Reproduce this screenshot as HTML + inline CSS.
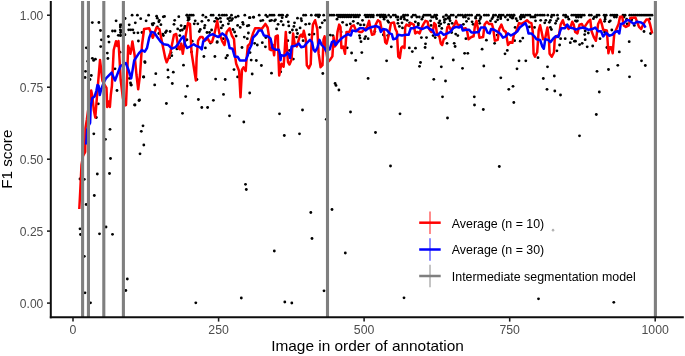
<!DOCTYPE html>
<html lang="en"><head><meta charset="utf-8"><title>F1 score by image in order of annotation</title>
<style>html,body{margin:0;padding:0;background:#fff}body{width:685px;height:356px;overflow:hidden}svg{display:block}text{font-family:"Liberation Sans",Arial,sans-serif}</style></head><body>
<svg width="685" height="356" viewBox="0 0 685 356">
<rect width="685" height="356" fill="#fff"/>
<g fill="#000">
<circle cx="92.3" cy="22.6" r="1.42"/>
<circle cx="98.9" cy="22.5" r="1.42"/>
<circle cx="100.5" cy="30.5" r="1.42"/>
<circle cx="101.4" cy="39.8" r="1.42"/>
<circle cx="100.7" cy="46.6" r="1.42"/>
<circle cx="86.3" cy="47.8" r="1.42"/>
<circle cx="92.4" cy="58.3" r="1.42"/>
<circle cx="95.4" cy="59.2" r="1.42"/>
<circle cx="93.6" cy="60.4" r="1.42"/>
<circle cx="108.4" cy="36.5" r="1.42"/>
<circle cx="109" cy="42.1" r="1.42"/>
<circle cx="107.3" cy="53.1" r="1.42"/>
<circle cx="107.9" cy="58.5" r="1.42"/>
<circle cx="112.5" cy="31" r="1.42"/>
<circle cx="115" cy="31" r="1.42"/>
<circle cx="118.3" cy="35.3" r="1.42"/>
<circle cx="120.7" cy="35.3" r="1.42"/>
<circle cx="121" cy="30.7" r="1.42"/>
<circle cx="121.6" cy="24.9" r="1.42"/>
<circle cx="116.1" cy="20.8" r="1.42"/>
<circle cx="124.9" cy="34.7" r="1.42"/>
<circle cx="87.7" cy="61.2" r="1.42"/>
<circle cx="120" cy="52.2" r="1.42"/>
<circle cx="125.1" cy="18.5" r="1.42"/>
<circle cx="132.1" cy="15.2" r="1.42"/>
<circle cx="137.4" cy="15.2" r="1.42"/>
<circle cx="148.6" cy="15.2" r="1.42"/>
<circle cx="140.7" cy="18.7" r="1.42"/>
<circle cx="135.3" cy="22.8" r="1.42"/>
<circle cx="129.2" cy="24.8" r="1.42"/>
<circle cx="146.1" cy="20.8" r="1.42"/>
<circle cx="128.7" cy="29.8" r="1.42"/>
<circle cx="130.7" cy="29.8" r="1.42"/>
<circle cx="132.8" cy="29.8" r="1.42"/>
<circle cx="134" cy="32.8" r="1.42"/>
<circle cx="137.9" cy="32.8" r="1.42"/>
<circle cx="142" cy="32.5" r="1.42"/>
<circle cx="138.4" cy="41" r="1.42"/>
<circle cx="156.6" cy="16.2" r="1.42"/>
<circle cx="157.3" cy="18.2" r="1.42"/>
<circle cx="164.5" cy="16.4" r="1.42"/>
<circle cx="163.3" cy="16.8" r="1.42"/>
<circle cx="159.3" cy="20.3" r="1.42"/>
<circle cx="158.8" cy="21.8" r="1.42"/>
<circle cx="152.2" cy="23.8" r="1.42"/>
<circle cx="153.7" cy="23.3" r="1.42"/>
<circle cx="152.7" cy="24.9" r="1.42"/>
<circle cx="160.9" cy="24.7" r="1.42"/>
<circle cx="157.3" cy="26.9" r="1.42"/>
<circle cx="166.5" cy="31" r="1.42"/>
<circle cx="170.1" cy="31.5" r="1.42"/>
<circle cx="165.5" cy="32.5" r="1.42"/>
<circle cx="162.9" cy="34.1" r="1.42"/>
<circle cx="163.4" cy="35.6" r="1.42"/>
<circle cx="158.8" cy="33.5" r="1.42"/>
<circle cx="174.7" cy="20.3" r="1.42"/>
<circle cx="174" cy="24.3" r="1.42"/>
<circle cx="178.8" cy="16.7" r="1.42"/>
<circle cx="181.1" cy="25.6" r="1.42"/>
<circle cx="184.9" cy="26.4" r="1.42"/>
<circle cx="177.7" cy="28.9" r="1.42"/>
<circle cx="180.3" cy="30.5" r="1.42"/>
<circle cx="182.3" cy="30" r="1.42"/>
<circle cx="184.4" cy="28.4" r="1.42"/>
<circle cx="186.9" cy="15.2" r="1.42"/>
<circle cx="188" cy="17.7" r="1.42"/>
<circle cx="189" cy="19.2" r="1.42"/>
<circle cx="179.8" cy="35.6" r="1.42"/>
<circle cx="186.9" cy="39.7" r="1.42"/>
<circle cx="120.3" cy="24.9" r="1.42"/>
<circle cx="120.3" cy="26.9" r="1.42"/>
<circle cx="120.3" cy="29.8" r="1.42"/>
<circle cx="120.6" cy="32.5" r="1.42"/>
<circle cx="120.3" cy="35.6" r="1.42"/>
<circle cx="124.6" cy="34.8" r="1.42"/>
<circle cx="187" cy="15.2" r="1.42"/>
<circle cx="189.6" cy="15.2" r="1.42"/>
<circle cx="191.3" cy="15.2" r="1.42"/>
<circle cx="193.2" cy="15.2" r="1.42"/>
<circle cx="202.9" cy="15.2" r="1.42"/>
<circle cx="211.1" cy="15.2" r="1.42"/>
<circle cx="213.1" cy="15.2" r="1.42"/>
<circle cx="219.2" cy="15.2" r="1.42"/>
<circle cx="222.3" cy="15.2" r="1.42"/>
<circle cx="224.3" cy="15.2" r="1.42"/>
<circle cx="226.4" cy="15.2" r="1.42"/>
<circle cx="231.5" cy="15.2" r="1.42"/>
<circle cx="244.8" cy="15.2" r="1.42"/>
<circle cx="189.1" cy="17.7" r="1.42"/>
<circle cx="188.1" cy="20.3" r="1.42"/>
<circle cx="195.2" cy="20.8" r="1.42"/>
<circle cx="194.2" cy="23.8" r="1.42"/>
<circle cx="197.8" cy="23.8" r="1.42"/>
<circle cx="201.9" cy="21.3" r="1.42"/>
<circle cx="205.9" cy="17.2" r="1.42"/>
<circle cx="208.5" cy="20.3" r="1.42"/>
<circle cx="204.9" cy="25.4" r="1.42"/>
<circle cx="204.4" cy="27.9" r="1.42"/>
<circle cx="200.3" cy="29.5" r="1.42"/>
<circle cx="199.3" cy="31.5" r="1.42"/>
<circle cx="207" cy="32.5" r="1.42"/>
<circle cx="209.5" cy="32.5" r="1.42"/>
<circle cx="211.6" cy="30" r="1.42"/>
<circle cx="214.6" cy="21.3" r="1.42"/>
<circle cx="216.2" cy="18.2" r="1.42"/>
<circle cx="217.7" cy="19.2" r="1.42"/>
<circle cx="220.3" cy="18.2" r="1.42"/>
<circle cx="220.8" cy="21.8" r="1.42"/>
<circle cx="222.8" cy="25.4" r="1.42"/>
<circle cx="221.3" cy="27.9" r="1.42"/>
<circle cx="227.9" cy="18.7" r="1.42"/>
<circle cx="230" cy="17.7" r="1.42"/>
<circle cx="232.5" cy="18.7" r="1.42"/>
<circle cx="229.5" cy="20.8" r="1.42"/>
<circle cx="231.5" cy="20.3" r="1.42"/>
<circle cx="228.4" cy="23.8" r="1.42"/>
<circle cx="235.6" cy="17.2" r="1.42"/>
<circle cx="238.1" cy="16.2" r="1.42"/>
<circle cx="233" cy="29.5" r="1.42"/>
<circle cx="234.6" cy="32" r="1.42"/>
<circle cx="236.1" cy="36.1" r="1.42"/>
<circle cx="237.6" cy="25.4" r="1.42"/>
<circle cx="240.2" cy="27.4" r="1.42"/>
<circle cx="242.7" cy="22.3" r="1.42"/>
<circle cx="243.2" cy="24.3" r="1.42"/>
<circle cx="247.3" cy="25.9" r="1.42"/>
<circle cx="248.8" cy="25.4" r="1.42"/>
<circle cx="249.4" cy="17.7" r="1.42"/>
<circle cx="253.5" cy="17.2" r="1.42"/>
<circle cx="248.4" cy="33" r="1.42"/>
<circle cx="244.3" cy="37.1" r="1.42"/>
<circle cx="247.3" cy="38.7" r="1.42"/>
<circle cx="217.2" cy="41.7" r="1.42"/>
<circle cx="223.3" cy="38.7" r="1.42"/>
<circle cx="192.2" cy="41.2" r="1.42"/>
<circle cx="186" cy="40.2" r="1.42"/>
<circle cx="185.5" cy="26.4" r="1.42"/>
<circle cx="259.2" cy="15.2" r="1.42"/>
<circle cx="265.8" cy="15.2" r="1.42"/>
<circle cx="269.9" cy="15.2" r="1.42"/>
<circle cx="272" cy="15.2" r="1.42"/>
<circle cx="274" cy="15.2" r="1.42"/>
<circle cx="279.1" cy="15.2" r="1.42"/>
<circle cx="281.2" cy="15.2" r="1.42"/>
<circle cx="282.7" cy="15.2" r="1.42"/>
<circle cx="287.3" cy="15.2" r="1.42"/>
<circle cx="303.6" cy="15.2" r="1.42"/>
<circle cx="305.7" cy="15.2" r="1.42"/>
<circle cx="311.3" cy="15.2" r="1.42"/>
<circle cx="315.9" cy="15.2" r="1.42"/>
<circle cx="318" cy="15.2" r="1.42"/>
<circle cx="319.5" cy="15.2" r="1.42"/>
<circle cx="253.6" cy="17.2" r="1.42"/>
<circle cx="250" cy="17.7" r="1.42"/>
<circle cx="267.4" cy="16.7" r="1.42"/>
<circle cx="286.3" cy="16.7" r="1.42"/>
<circle cx="282.2" cy="17.7" r="1.42"/>
<circle cx="260.7" cy="20.8" r="1.42"/>
<circle cx="262.8" cy="20.3" r="1.42"/>
<circle cx="269.9" cy="20.8" r="1.42"/>
<circle cx="271.5" cy="20.3" r="1.42"/>
<circle cx="274.5" cy="20.8" r="1.42"/>
<circle cx="275.5" cy="19.8" r="1.42"/>
<circle cx="281.2" cy="21.3" r="1.42"/>
<circle cx="288.3" cy="21.8" r="1.42"/>
<circle cx="278.1" cy="24.3" r="1.42"/>
<circle cx="283.2" cy="24.9" r="1.42"/>
<circle cx="288.8" cy="25.9" r="1.42"/>
<circle cx="276.6" cy="28.9" r="1.42"/>
<circle cx="294.5" cy="22.8" r="1.42"/>
<circle cx="293.9" cy="26.4" r="1.42"/>
<circle cx="297.5" cy="18.2" r="1.42"/>
<circle cx="301.1" cy="18.7" r="1.42"/>
<circle cx="301.6" cy="20.8" r="1.42"/>
<circle cx="305.7" cy="24.3" r="1.42"/>
<circle cx="309.3" cy="23.8" r="1.42"/>
<circle cx="300.1" cy="27.9" r="1.42"/>
<circle cx="296.5" cy="30" r="1.42"/>
<circle cx="292.4" cy="30" r="1.42"/>
<circle cx="289.9" cy="32.5" r="1.42"/>
<circle cx="297.5" cy="33.5" r="1.42"/>
<circle cx="296.5" cy="37.1" r="1.42"/>
<circle cx="287.8" cy="40.7" r="1.42"/>
<circle cx="303.1" cy="40.7" r="1.42"/>
<circle cx="309.3" cy="34.6" r="1.42"/>
<circle cx="313.9" cy="34.1" r="1.42"/>
<circle cx="265.8" cy="37.6" r="1.42"/>
<circle cx="262.3" cy="42.7" r="1.42"/>
<circle cx="254.6" cy="43.3" r="1.42"/>
<circle cx="316" cy="15.2" r="1.42"/>
<circle cx="317.6" cy="15.2" r="1.42"/>
<circle cx="319.1" cy="15.2" r="1.42"/>
<circle cx="323.7" cy="15.2" r="1.42"/>
<circle cx="329.8" cy="15.2" r="1.42"/>
<circle cx="331.9" cy="15.2" r="1.42"/>
<circle cx="333.9" cy="15.2" r="1.42"/>
<circle cx="337" cy="15.2" r="1.42"/>
<circle cx="339" cy="15.2" r="1.42"/>
<circle cx="341" cy="15.2" r="1.42"/>
<circle cx="343.1" cy="15.2" r="1.42"/>
<circle cx="345.1" cy="15.2" r="1.42"/>
<circle cx="347.2" cy="15.2" r="1.42"/>
<circle cx="349.2" cy="15.2" r="1.42"/>
<circle cx="351.3" cy="15.2" r="1.42"/>
<circle cx="353.3" cy="15.2" r="1.42"/>
<circle cx="355.4" cy="15.2" r="1.42"/>
<circle cx="357.4" cy="15.2" r="1.42"/>
<circle cx="359.5" cy="15.2" r="1.42"/>
<circle cx="365.1" cy="15.2" r="1.42"/>
<circle cx="367.1" cy="15.2" r="1.42"/>
<circle cx="369.2" cy="15.2" r="1.42"/>
<circle cx="371.2" cy="15.2" r="1.42"/>
<circle cx="373.2" cy="15.2" r="1.42"/>
<circle cx="377.3" cy="15.2" r="1.42"/>
<circle cx="379.4" cy="15.2" r="1.42"/>
<circle cx="381.4" cy="15.2" r="1.42"/>
<circle cx="383.5" cy="15.2" r="1.42"/>
<circle cx="318.6" cy="16.9" r="1.42"/>
<circle cx="338.5" cy="16.9" r="1.42"/>
<circle cx="340.5" cy="16.9" r="1.42"/>
<circle cx="342.6" cy="16.9" r="1.42"/>
<circle cx="344.6" cy="16.9" r="1.42"/>
<circle cx="346.7" cy="16.9" r="1.42"/>
<circle cx="348.7" cy="16.9" r="1.42"/>
<circle cx="350.8" cy="16.9" r="1.42"/>
<circle cx="353.8" cy="16.9" r="1.42"/>
<circle cx="355.9" cy="16.9" r="1.42"/>
<circle cx="358.4" cy="16.9" r="1.42"/>
<circle cx="366.1" cy="16.9" r="1.42"/>
<circle cx="368.1" cy="16.9" r="1.42"/>
<circle cx="370.7" cy="16.9" r="1.42"/>
<circle cx="373.2" cy="16.9" r="1.42"/>
<circle cx="380.4" cy="16.9" r="1.42"/>
<circle cx="383" cy="16.9" r="1.42"/>
<circle cx="324.7" cy="20.3" r="1.42"/>
<circle cx="322.2" cy="22.8" r="1.42"/>
<circle cx="320.1" cy="27.4" r="1.42"/>
<circle cx="337" cy="19.2" r="1.42"/>
<circle cx="342.6" cy="22.3" r="1.42"/>
<circle cx="346.7" cy="24.9" r="1.42"/>
<circle cx="350.3" cy="23.8" r="1.42"/>
<circle cx="353.3" cy="21.3" r="1.42"/>
<circle cx="357.9" cy="23.3" r="1.42"/>
<circle cx="362.5" cy="20.3" r="1.42"/>
<circle cx="360.5" cy="24.9" r="1.42"/>
<circle cx="364" cy="24.9" r="1.42"/>
<circle cx="341.1" cy="32" r="1.42"/>
<circle cx="330.3" cy="35.1" r="1.42"/>
<circle cx="332.9" cy="35.6" r="1.42"/>
<circle cx="359.5" cy="35.6" r="1.42"/>
<circle cx="360" cy="38.1" r="1.42"/>
<circle cx="361" cy="41.7" r="1.42"/>
<circle cx="365.6" cy="36.6" r="1.42"/>
<circle cx="364.6" cy="38.7" r="1.42"/>
<circle cx="368.1" cy="38.7" r="1.42"/>
<circle cx="374.8" cy="31.5" r="1.42"/>
<circle cx="383.5" cy="34.6" r="1.42"/>
<circle cx="381" cy="15.2" r="1.42"/>
<circle cx="383.1" cy="15.2" r="1.42"/>
<circle cx="385.1" cy="15.2" r="1.42"/>
<circle cx="388.7" cy="15.2" r="1.42"/>
<circle cx="393.3" cy="15.2" r="1.42"/>
<circle cx="395.3" cy="15.2" r="1.42"/>
<circle cx="403.5" cy="15.2" r="1.42"/>
<circle cx="405.5" cy="15.2" r="1.42"/>
<circle cx="407.6" cy="15.2" r="1.42"/>
<circle cx="413.2" cy="15.2" r="1.42"/>
<circle cx="415.3" cy="15.2" r="1.42"/>
<circle cx="423.9" cy="15.2" r="1.42"/>
<circle cx="426" cy="15.2" r="1.42"/>
<circle cx="428" cy="15.2" r="1.42"/>
<circle cx="430.1" cy="15.2" r="1.42"/>
<circle cx="434.7" cy="15.2" r="1.42"/>
<circle cx="436.7" cy="15.2" r="1.42"/>
<circle cx="446.4" cy="15.2" r="1.42"/>
<circle cx="384.1" cy="17.0" r="1.42"/>
<circle cx="386.1" cy="17.0" r="1.42"/>
<circle cx="390.7" cy="17.0" r="1.42"/>
<circle cx="396.3" cy="17.0" r="1.42"/>
<circle cx="397.9" cy="17.0" r="1.42"/>
<circle cx="401.5" cy="17.0" r="1.42"/>
<circle cx="404" cy="17.0" r="1.42"/>
<circle cx="411.7" cy="17.0" r="1.42"/>
<circle cx="416.8" cy="17.0" r="1.42"/>
<circle cx="419.3" cy="17.0" r="1.42"/>
<circle cx="422.9" cy="17.0" r="1.42"/>
<circle cx="431.6" cy="17.0" r="1.42"/>
<circle cx="433.1" cy="17.0" r="1.42"/>
<circle cx="435.7" cy="17.0" r="1.42"/>
<circle cx="443.4" cy="17.0" r="1.42"/>
<circle cx="449.5" cy="17.0" r="1.42"/>
<circle cx="384.1" cy="19.2" r="1.42"/>
<circle cx="387.7" cy="20.8" r="1.42"/>
<circle cx="397.9" cy="19.8" r="1.42"/>
<circle cx="400.9" cy="18.7" r="1.42"/>
<circle cx="404.5" cy="19.2" r="1.42"/>
<circle cx="407.1" cy="20.3" r="1.42"/>
<circle cx="421.9" cy="19.2" r="1.42"/>
<circle cx="430.6" cy="20.8" r="1.42"/>
<circle cx="436.7" cy="18.7" r="1.42"/>
<circle cx="439.8" cy="20.8" r="1.42"/>
<circle cx="444.4" cy="19.8" r="1.42"/>
<circle cx="448" cy="18.2" r="1.42"/>
<circle cx="388.7" cy="22.3" r="1.42"/>
<circle cx="397.9" cy="23.3" r="1.42"/>
<circle cx="402" cy="22.8" r="1.42"/>
<circle cx="399.4" cy="26.4" r="1.42"/>
<circle cx="402.5" cy="27.9" r="1.42"/>
<circle cx="409.6" cy="22.8" r="1.42"/>
<circle cx="415.3" cy="21.8" r="1.42"/>
<circle cx="418.3" cy="23.3" r="1.42"/>
<circle cx="418.3" cy="24.9" r="1.42"/>
<circle cx="438.8" cy="22.8" r="1.42"/>
<circle cx="440.8" cy="23.8" r="1.42"/>
<circle cx="444.4" cy="22.3" r="1.42"/>
<circle cx="439.3" cy="25.9" r="1.42"/>
<circle cx="441.8" cy="28.4" r="1.42"/>
<circle cx="431.1" cy="25.4" r="1.42"/>
<circle cx="383.6" cy="35.1" r="1.42"/>
<circle cx="387.7" cy="35.6" r="1.42"/>
<circle cx="421.4" cy="37.6" r="1.42"/>
<circle cx="426.5" cy="37.6" r="1.42"/>
<circle cx="433.1" cy="35.6" r="1.42"/>
<circle cx="435.2" cy="37.6" r="1.42"/>
<circle cx="425.5" cy="43.8" r="1.42"/>
<circle cx="446" cy="15.2" r="1.42"/>
<circle cx="451.1" cy="15.2" r="1.42"/>
<circle cx="453.2" cy="15.2" r="1.42"/>
<circle cx="458.3" cy="15.2" r="1.42"/>
<circle cx="460.3" cy="15.2" r="1.42"/>
<circle cx="462.4" cy="15.2" r="1.42"/>
<circle cx="465.4" cy="15.2" r="1.42"/>
<circle cx="467.5" cy="15.2" r="1.42"/>
<circle cx="469.5" cy="15.2" r="1.42"/>
<circle cx="471.6" cy="15.2" r="1.42"/>
<circle cx="477.2" cy="15.2" r="1.42"/>
<circle cx="479.2" cy="15.2" r="1.42"/>
<circle cx="484.3" cy="15.2" r="1.42"/>
<circle cx="486.4" cy="15.2" r="1.42"/>
<circle cx="488.4" cy="15.2" r="1.42"/>
<circle cx="493.5" cy="15.2" r="1.42"/>
<circle cx="495.6" cy="15.2" r="1.42"/>
<circle cx="499.2" cy="15.2" r="1.42"/>
<circle cx="501.2" cy="15.2" r="1.42"/>
<circle cx="503.2" cy="15.2" r="1.42"/>
<circle cx="507.3" cy="15.2" r="1.42"/>
<circle cx="509.4" cy="15.2" r="1.42"/>
<circle cx="511.4" cy="15.2" r="1.42"/>
<circle cx="513.5" cy="15.2" r="1.42"/>
<circle cx="448.6" cy="17.0" r="1.42"/>
<circle cx="456.2" cy="17.0" r="1.42"/>
<circle cx="463.4" cy="17.0" r="1.42"/>
<circle cx="465.4" cy="17.0" r="1.42"/>
<circle cx="475.7" cy="17.0" r="1.42"/>
<circle cx="480.8" cy="17.0" r="1.42"/>
<circle cx="493" cy="17.0" r="1.42"/>
<circle cx="498.1" cy="17.0" r="1.42"/>
<circle cx="500.7" cy="17.0" r="1.42"/>
<circle cx="505.3" cy="17.0" r="1.42"/>
<circle cx="510.4" cy="17.0" r="1.42"/>
<circle cx="513" cy="17.0" r="1.42"/>
<circle cx="445.5" cy="19.2" r="1.42"/>
<circle cx="449.6" cy="18.7" r="1.42"/>
<circle cx="450.1" cy="20.8" r="1.42"/>
<circle cx="468.5" cy="18.7" r="1.42"/>
<circle cx="466.5" cy="21.3" r="1.42"/>
<circle cx="472.1" cy="21.8" r="1.42"/>
<circle cx="475.7" cy="18.2" r="1.42"/>
<circle cx="480.3" cy="18.7" r="1.42"/>
<circle cx="479.2" cy="20.8" r="1.42"/>
<circle cx="490.5" cy="20.8" r="1.42"/>
<circle cx="492" cy="18.7" r="1.42"/>
<circle cx="497.6" cy="19.8" r="1.42"/>
<circle cx="495.6" cy="21.8" r="1.42"/>
<circle cx="500.7" cy="18.7" r="1.42"/>
<circle cx="507.8" cy="19.8" r="1.42"/>
<circle cx="512.4" cy="18.2" r="1.42"/>
<circle cx="448.6" cy="24.3" r="1.42"/>
<circle cx="452.2" cy="23.3" r="1.42"/>
<circle cx="463.4" cy="24.3" r="1.42"/>
<circle cx="473.1" cy="24.3" r="1.42"/>
<circle cx="479.7" cy="23.3" r="1.42"/>
<circle cx="451.6" cy="32.5" r="1.42"/>
<circle cx="455.7" cy="34.1" r="1.42"/>
<circle cx="457.8" cy="35.6" r="1.42"/>
<circle cx="465.9" cy="38.7" r="1.42"/>
<circle cx="486.4" cy="40.2" r="1.42"/>
<circle cx="497.1" cy="35.1" r="1.42"/>
<circle cx="494.6" cy="43.3" r="1.42"/>
<circle cx="447" cy="43.3" r="1.42"/>
<circle cx="454.2" cy="43.3" r="1.42"/>
<circle cx="514.1" cy="15.2" r="1.42"/>
<circle cx="521.2" cy="15.2" r="1.42"/>
<circle cx="523.3" cy="15.2" r="1.42"/>
<circle cx="525.8" cy="15.2" r="1.42"/>
<circle cx="527.9" cy="15.2" r="1.42"/>
<circle cx="529.9" cy="15.2" r="1.42"/>
<circle cx="535.5" cy="15.2" r="1.42"/>
<circle cx="537.6" cy="15.2" r="1.42"/>
<circle cx="540.1" cy="15.2" r="1.42"/>
<circle cx="542.2" cy="15.2" r="1.42"/>
<circle cx="544.2" cy="15.2" r="1.42"/>
<circle cx="547.8" cy="15.2" r="1.42"/>
<circle cx="551.9" cy="15.2" r="1.42"/>
<circle cx="553.9" cy="15.2" r="1.42"/>
<circle cx="557.5" cy="15.2" r="1.42"/>
<circle cx="563.6" cy="15.2" r="1.42"/>
<circle cx="565.7" cy="15.2" r="1.42"/>
<circle cx="571.8" cy="15.2" r="1.42"/>
<circle cx="573.9" cy="15.2" r="1.42"/>
<circle cx="575.9" cy="15.2" r="1.42"/>
<circle cx="578" cy="15.2" r="1.42"/>
<circle cx="520.2" cy="17.0" r="1.42"/>
<circle cx="522.3" cy="17.0" r="1.42"/>
<circle cx="524.3" cy="17.0" r="1.42"/>
<circle cx="530.9" cy="17.0" r="1.42"/>
<circle cx="533" cy="17.0" r="1.42"/>
<circle cx="535" cy="17.0" r="1.42"/>
<circle cx="551.4" cy="17.0" r="1.42"/>
<circle cx="565.7" cy="17.0" r="1.42"/>
<circle cx="567.7" cy="17.0" r="1.42"/>
<circle cx="576.4" cy="17.0" r="1.42"/>
<circle cx="578.5" cy="17.0" r="1.42"/>
<circle cx="516.1" cy="18.7" r="1.42"/>
<circle cx="517.2" cy="20.8" r="1.42"/>
<circle cx="520.7" cy="18.9" r="1.42"/>
<circle cx="535.5" cy="20.8" r="1.42"/>
<circle cx="540.7" cy="20.3" r="1.42"/>
<circle cx="545.8" cy="20.3" r="1.42"/>
<circle cx="550.4" cy="20.3" r="1.42"/>
<circle cx="558" cy="18.7" r="1.42"/>
<circle cx="556.5" cy="20.8" r="1.42"/>
<circle cx="568.8" cy="19.2" r="1.42"/>
<circle cx="575.4" cy="20.8" r="1.42"/>
<circle cx="577.4" cy="20.8" r="1.42"/>
<circle cx="544.7" cy="22.8" r="1.42"/>
<circle cx="549.3" cy="22.3" r="1.42"/>
<circle cx="555.5" cy="23.3" r="1.42"/>
<circle cx="515.1" cy="27.4" r="1.42"/>
<circle cx="529.4" cy="26.9" r="1.42"/>
<circle cx="534.5" cy="27.4" r="1.42"/>
<circle cx="550.4" cy="27.4" r="1.42"/>
<circle cx="551.4" cy="29.5" r="1.42"/>
<circle cx="522.8" cy="38.1" r="1.42"/>
<circle cx="520.2" cy="41.2" r="1.42"/>
<circle cx="514.6" cy="40.7" r="1.42"/>
<circle cx="560.6" cy="38.7" r="1.42"/>
<circle cx="565.2" cy="38.7" r="1.42"/>
<circle cx="571.8" cy="38.7" r="1.42"/>
<circle cx="574.4" cy="41.2" r="1.42"/>
<circle cx="570.3" cy="42.7" r="1.42"/>
<circle cx="580.1" cy="15.2" r="1.42"/>
<circle cx="582.2" cy="15.2" r="1.42"/>
<circle cx="584.2" cy="15.2" r="1.42"/>
<circle cx="589.3" cy="15.2" r="1.42"/>
<circle cx="591.3" cy="15.2" r="1.42"/>
<circle cx="597" cy="15.2" r="1.42"/>
<circle cx="599" cy="15.2" r="1.42"/>
<circle cx="604.1" cy="15.2" r="1.42"/>
<circle cx="606.2" cy="15.2" r="1.42"/>
<circle cx="610.8" cy="15.2" r="1.42"/>
<circle cx="612.8" cy="15.2" r="1.42"/>
<circle cx="614.9" cy="15.2" r="1.42"/>
<circle cx="616.9" cy="15.2" r="1.42"/>
<circle cx="623" cy="15.2" r="1.42"/>
<circle cx="625.1" cy="15.2" r="1.42"/>
<circle cx="629.7" cy="15.2" r="1.42"/>
<circle cx="631.7" cy="15.2" r="1.42"/>
<circle cx="633.8" cy="15.2" r="1.42"/>
<circle cx="635.8" cy="15.2" r="1.42"/>
<circle cx="637.8" cy="15.2" r="1.42"/>
<circle cx="639.9" cy="15.2" r="1.42"/>
<circle cx="641.9" cy="15.2" r="1.42"/>
<circle cx="644" cy="15.2" r="1.42"/>
<circle cx="646" cy="15.2" r="1.42"/>
<circle cx="648" cy="15.2" r="1.42"/>
<circle cx="650" cy="15.2" r="1.42"/>
<circle cx="652" cy="15.2" r="1.42"/>
<circle cx="581.1" cy="17.0" r="1.42"/>
<circle cx="594.4" cy="17.0" r="1.42"/>
<circle cx="596.5" cy="17.0" r="1.42"/>
<circle cx="605.1" cy="17.0" r="1.42"/>
<circle cx="614.3" cy="17.0" r="1.42"/>
<circle cx="616.4" cy="17.0" r="1.42"/>
<circle cx="624" cy="17.0" r="1.42"/>
<circle cx="576.5" cy="21.3" r="1.42"/>
<circle cx="593.4" cy="18.7" r="1.42"/>
<circle cx="605.1" cy="19.2" r="1.42"/>
<circle cx="604.6" cy="21.3" r="1.42"/>
<circle cx="610.3" cy="20.8" r="1.42"/>
<circle cx="609.2" cy="21.8" r="1.42"/>
<circle cx="626.6" cy="19.2" r="1.42"/>
<circle cx="631.7" cy="19.8" r="1.42"/>
<circle cx="627.1" cy="23.8" r="1.42"/>
<circle cx="634.3" cy="25.4" r="1.42"/>
<circle cx="585.2" cy="31" r="1.42"/>
<circle cx="588.3" cy="33" r="1.42"/>
<circle cx="584.7" cy="34.6" r="1.42"/>
<circle cx="585.2" cy="39.7" r="1.42"/>
<circle cx="600" cy="38.7" r="1.42"/>
<circle cx="611.8" cy="30" r="1.42"/>
<circle cx="604.6" cy="32" r="1.42"/>
<circle cx="629.2" cy="41.7" r="1.42"/>
<circle cx="644" cy="31.5" r="1.42"/>
<circle cx="575.5" cy="41.2" r="1.42"/>
<circle cx="582.2" cy="43.3" r="1.42"/>
<circle cx="649.8" cy="19" r="1.42"/>
<circle cx="650.6" cy="33.5" r="1.42"/>
<circle cx="171.1" cy="52.6" r="1.42"/>
<circle cx="169.6" cy="57.7" r="1.42"/>
<circle cx="176.9" cy="48.9" r="1.42"/>
<circle cx="205.4" cy="47.9" r="1.42"/>
<circle cx="217.1" cy="42.4" r="1.42"/>
<circle cx="210.5" cy="43.1" r="1.42"/>
<circle cx="191.5" cy="51.9" r="1.42"/>
<circle cx="242" cy="47.5" r="1.42"/>
<circle cx="227.4" cy="55.5" r="1.42"/>
<circle cx="250" cy="52.6" r="1.42"/>
<circle cx="257.3" cy="45" r="1.42"/>
<circle cx="265.4" cy="46.8" r="1.42"/>
<circle cx="289.5" cy="50.4" r="1.42"/>
<circle cx="347.2" cy="47.8" r="1.42"/>
<circle cx="351.6" cy="53" r="1.42"/>
<circle cx="361.8" cy="52.6" r="1.42"/>
<circle cx="391.3" cy="46.8" r="1.42"/>
<circle cx="409.3" cy="47.9" r="1.42"/>
<circle cx="415.5" cy="48.2" r="1.42"/>
<circle cx="412.3" cy="51.6" r="1.42"/>
<circle cx="425.1" cy="47.5" r="1.42"/>
<circle cx="432.7" cy="58" r="1.42"/>
<circle cx="455.1" cy="46.5" r="1.42"/>
<circle cx="464.6" cy="53.3" r="1.42"/>
<circle cx="467.8" cy="53.3" r="1.42"/>
<circle cx="482.1" cy="49.2" r="1.42"/>
<circle cx="505" cy="53.8" r="1.42"/>
<circle cx="507.3" cy="50.4" r="1.42"/>
<circle cx="538" cy="57.7" r="1.42"/>
<circle cx="559.6" cy="45" r="1.42"/>
<circle cx="556.9" cy="50.8" r="1.42"/>
<circle cx="579.6" cy="44.6" r="1.42"/>
<circle cx="587.2" cy="46.8" r="1.42"/>
<circle cx="592.7" cy="46" r="1.42"/>
<circle cx="606.9" cy="47.5" r="1.42"/>
<circle cx="619.3" cy="51.9" r="1.42"/>
<circle cx="80" cy="228.8" r="1.42"/>
<circle cx="80.5" cy="234.5" r="1.42"/>
<circle cx="86.2" cy="204.5" r="1.42"/>
<circle cx="99.5" cy="233.8" r="1.42"/>
<circle cx="106" cy="227" r="1.42"/>
<circle cx="112.5" cy="234.3" r="1.42"/>
<circle cx="144.8" cy="61.6" r="1.42"/>
<circle cx="143.4" cy="76.9" r="1.42"/>
<circle cx="129.5" cy="78.4" r="1.42"/>
<circle cx="130.9" cy="84.9" r="1.42"/>
<circle cx="139" cy="100.5" r="1.42"/>
<circle cx="134.6" cy="104.9" r="1.42"/>
<circle cx="155.8" cy="73.7" r="1.42"/>
<circle cx="154.7" cy="84.9" r="1.42"/>
<circle cx="167.9" cy="69.9" r="1.42"/>
<circle cx="173.3" cy="72.2" r="1.42"/>
<circle cx="168.2" cy="77.3" r="1.42"/>
<circle cx="172.3" cy="83.5" r="1.42"/>
<circle cx="166.4" cy="103.5" r="1.42"/>
<circle cx="183.5" cy="65.2" r="1.42"/>
<circle cx="187.4" cy="86.1" r="1.42"/>
<circle cx="185.7" cy="96.6" r="1.42"/>
<circle cx="196.9" cy="79.5" r="1.42"/>
<circle cx="203.9" cy="56.5" r="1.42"/>
<circle cx="214.9" cy="56.5" r="1.42"/>
<circle cx="215.6" cy="79.1" r="1.42"/>
<circle cx="198.4" cy="99.5" r="1.42"/>
<circle cx="213.4" cy="100.3" r="1.42"/>
<circle cx="171.8" cy="55.7" r="1.42"/>
<circle cx="201.8" cy="107.5" r="1.42"/>
<circle cx="207.6" cy="107.5" r="1.42"/>
<circle cx="225.9" cy="57.9" r="1.42"/>
<circle cx="234" cy="69.6" r="1.42"/>
<circle cx="225.2" cy="79.5" r="1.42"/>
<circle cx="237.6" cy="76.9" r="1.42"/>
<circle cx="223.5" cy="94.4" r="1.42"/>
<circle cx="249.7" cy="93" r="1.42"/>
<circle cx="252.2" cy="74" r="1.42"/>
<circle cx="251.2" cy="60.1" r="1.42"/>
<circle cx="256.3" cy="60.5" r="1.42"/>
<circle cx="261.4" cy="65.5" r="1.42"/>
<circle cx="271.5" cy="73.2" r="1.42"/>
<circle cx="280.7" cy="71.8" r="1.42"/>
<circle cx="293.4" cy="59.1" r="1.42"/>
<circle cx="355.7" cy="60.4" r="1.42"/>
<circle cx="386.6" cy="60.8" r="1.42"/>
<circle cx="322.8" cy="73.5" r="1.42"/>
<circle cx="368.1" cy="78.4" r="1.42"/>
<circle cx="335.1" cy="83.5" r="1.42"/>
<circle cx="336" cy="85.4" r="1.42"/>
<circle cx="338.9" cy="90" r="1.42"/>
<circle cx="85.5" cy="71.3" r="1.42"/>
<circle cx="85" cy="77.5" r="1.42"/>
<circle cx="91.3" cy="75.5" r="1.42"/>
<circle cx="90" cy="79.5" r="1.42"/>
<circle cx="98.3" cy="103.8" r="1.42"/>
<circle cx="96.3" cy="117.5" r="1.42"/>
<circle cx="93.8" cy="133.8" r="1.42"/>
<circle cx="110" cy="129.3" r="1.42"/>
<circle cx="105.5" cy="139.3" r="1.42"/>
<circle cx="117" cy="90.5" r="1.42"/>
<circle cx="131.3" cy="85" r="1.42"/>
<circle cx="130.5" cy="83" r="1.42"/>
<circle cx="139.5" cy="100" r="1.42"/>
<circle cx="135" cy="105" r="1.42"/>
<circle cx="143.8" cy="77" r="1.42"/>
<circle cx="145" cy="62.5" r="1.42"/>
<circle cx="143" cy="125.8" r="1.42"/>
<circle cx="141.3" cy="131.3" r="1.42"/>
<circle cx="143.8" cy="145" r="1.42"/>
<circle cx="115" cy="68.8" r="1.42"/>
<circle cx="182.5" cy="113.3" r="1.42"/>
<circle cx="229.5" cy="115.8" r="1.42"/>
<circle cx="243.8" cy="122" r="1.42"/>
<circle cx="279.5" cy="113.8" r="1.42"/>
<circle cx="302.5" cy="110" r="1.42"/>
<circle cx="284.3" cy="135.5" r="1.42"/>
<circle cx="299.5" cy="133.8" r="1.42"/>
<circle cx="326.3" cy="119.3" r="1.42"/>
<circle cx="350.5" cy="112" r="1.42"/>
<circle cx="375.5" cy="132.5" r="1.42"/>
<circle cx="420.5" cy="62.5" r="1.42"/>
<circle cx="419.5" cy="66.3" r="1.42"/>
<circle cx="441.3" cy="66.8" r="1.42"/>
<circle cx="453.3" cy="60" r="1.42"/>
<circle cx="462.5" cy="68.3" r="1.42"/>
<circle cx="483.8" cy="66" r="1.42"/>
<circle cx="433.8" cy="79.3" r="1.42"/>
<circle cx="445.5" cy="81" r="1.42"/>
<circle cx="442.5" cy="96.8" r="1.42"/>
<circle cx="400" cy="113.8" r="1.42"/>
<circle cx="447.5" cy="118" r="1.42"/>
<circle cx="474.3" cy="96.8" r="1.42"/>
<circle cx="474.5" cy="105" r="1.42"/>
<circle cx="483.3" cy="109.5" r="1.42"/>
<circle cx="500.8" cy="77.8" r="1.42"/>
<circle cx="517" cy="68.8" r="1.42"/>
<circle cx="519" cy="60.8" r="1.42"/>
<circle cx="525.8" cy="60.8" r="1.42"/>
<circle cx="513" cy="86.3" r="1.42"/>
<circle cx="508.8" cy="89.3" r="1.42"/>
<circle cx="513.8" cy="102.5" r="1.42"/>
<circle cx="543.3" cy="78.5" r="1.42"/>
<circle cx="547" cy="89.3" r="1.42"/>
<circle cx="547.5" cy="66.8" r="1.42"/>
<circle cx="554.3" cy="76" r="1.42"/>
<circle cx="554.8" cy="91" r="1.42"/>
<circle cx="560.5" cy="95" r="1.42"/>
<circle cx="597" cy="71.3" r="1.42"/>
<circle cx="608.5" cy="69.5" r="1.42"/>
<circle cx="617.8" cy="65.3" r="1.42"/>
<circle cx="629.5" cy="76.8" r="1.42"/>
<circle cx="641.5" cy="60.8" r="1.42"/>
<circle cx="645.3" cy="65.5" r="1.42"/>
<circle cx="599.3" cy="92" r="1.42"/>
<circle cx="596.3" cy="114.5" r="1.42"/>
<circle cx="579.5" cy="135.8" r="1.42"/>
<circle cx="140" cy="153.8" r="1.42"/>
<circle cx="110.5" cy="158.5" r="1.42"/>
<circle cx="109.5" cy="173.5" r="1.42"/>
<circle cx="97.3" cy="174" r="1.42"/>
<circle cx="80" cy="179" r="1.42"/>
<circle cx="84.3" cy="179.3" r="1.42"/>
<circle cx="94.3" cy="195.5" r="1.42"/>
<circle cx="245.5" cy="184.3" r="1.42"/>
<circle cx="246.3" cy="189.5" r="1.42"/>
<circle cx="310.8" cy="212.5" r="1.42"/>
<circle cx="332" cy="209.5" r="1.42"/>
<circle cx="390.5" cy="166" r="1.42"/>
<circle cx="499.3" cy="166.5" r="1.42"/>
<circle cx="84.3" cy="256.3" r="1.42"/>
<circle cx="127.3" cy="279" r="1.42"/>
<circle cx="125.8" cy="290.5" r="1.42"/>
<circle cx="85" cy="292.8" r="1.42"/>
<circle cx="90.5" cy="302.8" r="1.42"/>
<circle cx="195.8" cy="302.8" r="1.42"/>
<circle cx="312" cy="238.5" r="1.42"/>
<circle cx="274.3" cy="251" r="1.42"/>
<circle cx="345.3" cy="253" r="1.42"/>
<circle cx="324" cy="290.8" r="1.42"/>
<circle cx="241.3" cy="298" r="1.42"/>
<circle cx="284.8" cy="302" r="1.42"/>
<circle cx="291.8" cy="303" r="1.42"/>
<circle cx="404" cy="297.8" r="1.42"/>
<circle cx="538.5" cy="298.8" r="1.42"/>
<circle cx="613.8" cy="302.3" r="1.42"/>
</g>
<circle cx="553.05" cy="230.15" r="1.3" fill="#b4b4b4"/>
<polyline points="79.3,209 80.3,190 81.5,165 83,156 85.2,151.8 85.5,128 86.8,120 87.9,112 89.7,100 91.2,90.5 92.3,96 93.8,110 95.3,117.5 96.3,105 97.5,90 100,60 101.2,70 102.4,80.7 104,84 106.5,88 107.2,107 108.5,101.5 109.9,107 110.8,95 111.9,86 113.7,50 116,41.2 117.2,46 118.5,41 120.7,80 122.8,97.4 124.5,105.5 126,105 127,80 128.2,45.8 129.4,49.4 130.4,53.8 131.2,50 132.4,41.4 134.6,55 136.5,75 138.2,89.3 140,75 142,45 144.1,29 149.2,28.2 152.8,37.7 156.5,27.5 159.4,29 162,42 165.3,58.2 166.7,62.3 168.5,58 170.4,52.3 174,34.8 176.2,34 178.4,48 179.9,49.4 181.3,43.6 182.8,53.8 185,39.2 187.9,23.1 190,23.9 191.5,52.3 193,62 195.9,80.5 196.6,58 198.1,40.7 200.3,37 202.5,37 204.5,41 207.6,38.5 209.8,42.1 212,42.1 214.2,34.8 215.5,29 217.2,21 219.4,33.4 222.3,41.4 224.5,45 226.7,31.9 229.6,28.2 231.8,35.5 234,39.2 235.4,58.2 236.2,63.8 239.1,71 240.5,97.3 242,69.6 243.5,67.4 245.7,71 246.4,60.8 247.8,45.8 250,43.6 253,33.4 255.1,28.2 258.8,28.2 261.7,29 265.4,23.9 267.6,27.5 269,36.3 269.7,49.4 271.2,50.1 272.7,45 274.1,55.3 275.6,36.3 277.8,35.5 278.5,58 279.2,75.4 281.4,63.8 283.6,66.7 284.5,53.8 285.8,31.9 287.3,53.8 288,62 289.5,64.5 291.6,59.4 292.4,45 293.1,33.4 294.6,43.6 296.8,46.5 299.7,36.3 301.2,34.7 302.6,37 303.8,30.8 305.8,39.7 306.8,65.2 308.8,68.2 310.7,64.2 311.7,39.7 312.9,24.6 315.1,20.2 317.3,29 318.6,53.4 320.6,67.2 322.5,65.2 323.5,39.7 324.6,36.3 326,50 328,62 330.4,59.3 332.4,56.4 333.6,37 334.8,46.5 336.3,44.6 337.5,31.9 339.2,24.6 340.5,27 341.4,48 343.2,46.5 345,53.8 346.5,31.9 349.4,31.9 351.6,26.1 353.8,25.3 356,30.4 359.6,31.9 362,31.9 364.7,29 366.9,27.5 369.1,20.9 370.6,29 372,34.8 374.2,34.1 375.7,24.6 377.9,20.2 380.1,21.7 381.5,29 383.7,29.7 385.2,42.1 386.6,43.6 388.8,34.8 391,23.1 393.9,22.4 395.4,29 396.9,31.9 398.3,56.7 399.8,58.2 401.2,48 402.7,46.5 404.5,48 405.2,27 406.5,24.6 409.4,26 410.8,23.1 413.8,24.6 415.2,33.4 417.4,31.9 419.6,33.4 421.1,29 423.2,24.6 425.4,20.9 427.6,21.7 429.1,29 431.3,31.9 432.8,31.9 434.2,23.1 435.7,24.6 437.1,34.8 439.3,36.3 440.8,43.6 442.2,45 443.7,39.2 445.9,37.7 447.3,27.5 448.8,26 451,30.4 453.9,26 456.1,20.9 457.6,24.6 460.5,25.3 462.7,29 465.6,28.2 467,30.4 468.5,39.2 471.4,37 473.6,36.3 475.1,24.6 476.5,20.9 478,29 479.5,37.7 483.1,37 484.6,24.6 486.8,21.7 488.9,23.9 491.9,23.9 493.3,29 494.8,40.7 497.7,39.9 499.2,29 501.4,24.6 503.6,30.4 505.8,31.9 508,45 510.2,42.1 512.4,42.8 513.9,34.8 516.1,31.9 519,23.1 521.9,23.9 524.1,22.4 527,20.2 529.2,22.4 531.4,23.1 532.8,31.9 533.6,53.8 535,56.7 537.2,52.3 538.7,30.4 540.1,25.3 541.6,31.9 543.1,39.2 545.3,37.7 547.4,27.5 548.9,39.2 549.6,53.8 551.8,56.7 554,52.3 554.7,39.2 556.2,36.3 559.1,34.8 560.6,24.6 562.8,20.2 564.2,24.6 566.4,26 568.6,29 570.5,27 572.3,21.7 573.7,24.6 575.2,31.9 577.4,33.4 579.6,24.6 581.8,23.9 583.9,28.2 586.1,24.6 588.3,21.5 590.3,19.8 591.6,31.3 593.8,37.1 595.9,40.8 598.1,24 600.3,19.6 601.8,24 603.2,29.8 606.9,30.5 608.4,53.2 609.8,47.3 611.3,47.3 612.7,53.2 614.2,34.2 616.4,29.1 618.6,24 620,16.7 622.2,16.7 623.7,25.4 625.9,26.9 628.8,25.4 630.3,18.1 635.4,17.4 636.8,21.1 639,26.9 641.2,29.1 643.4,24 646.3,19.6 648.5,19.6 650,24 652.2,33.5" fill="none" stroke="#ff0000" stroke-width="2.5" stroke-linejoin="round" stroke-linecap="butt"/>
<polyline points="86.2,144.5 87.2,130 88.5,126 90.1,123 90.7,106.4 92.2,98.3 94.7,96.2 96.3,91.1 97.5,85 98.6,86 99.8,95 101.3,89 104,82 106,78.3 111.6,72.7 115,80.5 120.5,66 125.8,63 128.5,70 131.2,78.4 134.2,60.5 139,53.1 141.9,50.1 144.8,51.6 147,48 149.2,37.7 151.4,31.9 154.3,32.6 157.2,37 160.9,42.1 163.8,44.3 168.2,45 171.8,48.7 175.5,47.2 178.4,43.6 181.3,38.5 183.5,36.3 185,44.3 187.2,48 190,46.5 193.7,44.3 195.9,45.8 199.6,47.2 201.8,49.4 203.2,41.4 206.1,38.5 209.1,35.5 212.7,34.1 216.4,36.3 218.6,37 222.3,33.4 226,36.3 228.1,40.7 229.6,48 232.5,48.7 234.7,56.7 237.6,56.7 239.8,60.4 245.7,60.4 247.8,55.3 249.3,49.4 251.5,45 253,37.7 256.6,34.1 258.8,30.4 261.7,30.4 263.9,35.5 267.6,36.3 270.5,38.5 271.3,42 272.6,48.2 275.7,49.7 278.8,49.7 279.8,53.3 280.5,60.2 281.3,55.3 283.9,55.8 285.8,55 287.4,52.6 289,54.5 290,58 291.6,46.5 295.3,45.8 298.9,43.6 301.1,47.2 304.1,46.5 307,42.8 309.9,39.9 312.1,42.1 313.5,49.4 315.1,51.6 317.3,48 319.5,39.9 321.7,45 324.6,48 326,50.9 329.7,49.4 331.9,42.1 334.1,40.7 335.5,45 338.5,41.4 341.4,38.5 344.3,36.3 348,34.1 350.9,35.5 352.3,30.4 356,31.2 359.6,28.2 363.3,28.2 365.5,30.4 368.4,28.2 372.8,26.8 376.4,26.1 379.3,27.5 380.8,31.9 383,29 386.6,29.7 389.6,33.4 391.8,34.1 393.2,39.2 396.1,38.5 398.3,34.8 402,35.5 405.6,34.8 408.6,34.8 410.8,28.2 413.8,28.2 416.7,26.8 419.6,28.2 422.5,29 426.9,26.8 429.8,29 432.7,30.4 434.9,34.8 437.8,34.8 440.8,31.9 443.7,34.8 447.3,33.4 450.3,31.9 453.2,28.2 456.1,26.8 459,27.5 461.2,25.3 462.7,30.4 466.3,29.7 469.2,29.7 471.4,32.6 475.1,32.6 478.7,31.9 480.9,27.5 485.3,27.5 487.5,32.6 489.7,33.4 491.1,29 494.1,29.7 497.7,31.9 500.6,34.1 502.9,37.7 505.8,36.3 508,33.4 510.9,35.5 514.6,33.4 517.5,31.2 519.7,27.5 522.6,25.3 525.5,23.1 527,26.8 528.5,33.4 531.4,33.4 534.3,36.3 536.5,39.2 540.1,39.9 542.3,46.5 543.8,48.7 545.3,39.2 548.2,39.9 550.4,42.1 553.3,38.5 555.5,36.3 558.4,37 559.9,31.9 561.3,28.2 565,28.2 567.2,24.6 569.3,27.5 573,28.2 575.9,29.7 579.6,28.2 583.2,27.5 586.9,29 588.6,29.8 592.3,29.1 595.2,27.6 598.1,31.3 601.1,31.3 603.2,36.4 606.2,32.7 609.1,35.7 612,34.9 614.9,32 617.8,31.3 619.3,33.5 620.8,24 623.7,23.2 626.6,20.3 628.8,20.3 631,21.8 633.9,24 636.8,21.8 641.2,22.5 643.4,24 645.6,27.6" fill="none" stroke="#0000ff" stroke-width="2.5" stroke-linejoin="round" stroke-linecap="butt"/>
<line x1="82.6" y1="1" x2="82.6" y2="317.3" stroke="#7f7f7f" stroke-width="3.1"/>
<line x1="88.45" y1="1" x2="88.45" y2="317.3" stroke="#7f7f7f" stroke-width="3.1"/>
<line x1="103.8" y1="1" x2="103.8" y2="317.3" stroke="#7f7f7f" stroke-width="3.1"/>
<line x1="123.4" y1="1" x2="123.4" y2="317.3" stroke="#7f7f7f" stroke-width="3.1"/>
<line x1="327.5" y1="1" x2="327.5" y2="317.3" stroke="#7f7f7f" stroke-width="3.1"/>
<line x1="655.4" y1="1" x2="655.4" y2="317.3" stroke="#7f7f7f" stroke-width="3.1"/>
<line x1="50.8" y1="0.9" x2="50.8" y2="318.15" stroke="#0d0d0d" stroke-width="2.0"/>
<line x1="49.85" y1="317.2" x2="683.8" y2="317.2" stroke="#0d0d0d" stroke-width="2.0"/>
<line x1="47" y1="303.1" x2="50.2" y2="303.1" stroke="#1a1a1a" stroke-width="1.55"/>
<text x="43.3" y="307.7" font-size="12.05" fill="#4d4d4d" text-anchor="end">0.00</text>
<line x1="47" y1="231.1" x2="50.2" y2="231.1" stroke="#1a1a1a" stroke-width="1.55"/>
<text x="43.3" y="235.7" font-size="12.05" fill="#4d4d4d" text-anchor="end">0.25</text>
<line x1="47" y1="159.2" x2="50.2" y2="159.2" stroke="#1a1a1a" stroke-width="1.55"/>
<text x="43.3" y="163.8" font-size="12.05" fill="#4d4d4d" text-anchor="end">0.50</text>
<line x1="47" y1="87.2" x2="50.2" y2="87.2" stroke="#1a1a1a" stroke-width="1.55"/>
<text x="43.3" y="91.8" font-size="12.05" fill="#4d4d4d" text-anchor="end">0.75</text>
<line x1="47" y1="15.2" x2="50.2" y2="15.2" stroke="#1a1a1a" stroke-width="1.55"/>
<text x="43.3" y="19.8" font-size="12.05" fill="#4d4d4d" text-anchor="end">1.00</text>
<line x1="73.0" y1="317.5" x2="73.0" y2="321.6" stroke="#1a1a1a" stroke-width="1.55"/>
<text x="73.0" y="334" font-size="12.3" fill="#4d4d4d" text-anchor="middle">0</text>
<line x1="218.6" y1="317.5" x2="218.6" y2="321.6" stroke="#1a1a1a" stroke-width="1.55"/>
<text x="218.6" y="334" font-size="12.3" fill="#4d4d4d" text-anchor="middle">250</text>
<line x1="364.1" y1="317.5" x2="364.1" y2="321.6" stroke="#1a1a1a" stroke-width="1.55"/>
<text x="364.1" y="334" font-size="12.3" fill="#4d4d4d" text-anchor="middle">500</text>
<line x1="509.7" y1="317.5" x2="509.7" y2="321.6" stroke="#1a1a1a" stroke-width="1.55"/>
<text x="509.7" y="334" font-size="12.3" fill="#4d4d4d" text-anchor="middle">750</text>
<line x1="655.2" y1="317.5" x2="655.2" y2="321.6" stroke="#1a1a1a" stroke-width="1.55"/>
<text x="655.2" y="334" font-size="12.3" fill="#4d4d4d" text-anchor="middle">1000</text>
<text x="367.5" y="351" font-size="15.42" fill="#000" text-anchor="middle">Image in order of annotation</text>
<text transform="translate(12.4,159.2) rotate(-90)" font-size="15.2" fill="#000" text-anchor="middle">F1 score</text>
<line x1="430" y1="211.5" x2="430" y2="233.9" stroke="#ff0000" stroke-width="1.3" stroke-opacity="0.7"/>
<line x1="419.2" y1="222.7" x2="440.7" y2="222.7" stroke="#ff0000" stroke-width="2.5"/>
<text x="451.8" y="227.5" font-size="12.4" fill="#000">Average (n = 10)</text>
<line x1="430" y1="238.3" x2="430" y2="260.7" stroke="#0000ff" stroke-width="1.3" stroke-opacity="0.7"/>
<line x1="419.2" y1="249.5" x2="440.7" y2="249.5" stroke="#0000ff" stroke-width="2.5"/>
<text x="451.8" y="254.3" font-size="12.4" fill="#000">Average (n = 30)</text>
<line x1="430" y1="264.8" x2="430" y2="287.2" stroke="#7f7f7f" stroke-width="1.3" stroke-opacity="0.7"/>
<line x1="419.2" y1="276" x2="440.7" y2="276" stroke="#7f7f7f" stroke-width="2.5"/>
<text x="451.8" y="280.8" font-size="12.4" fill="#000">Intermediate segmentation model</text>
</svg></body></html>
